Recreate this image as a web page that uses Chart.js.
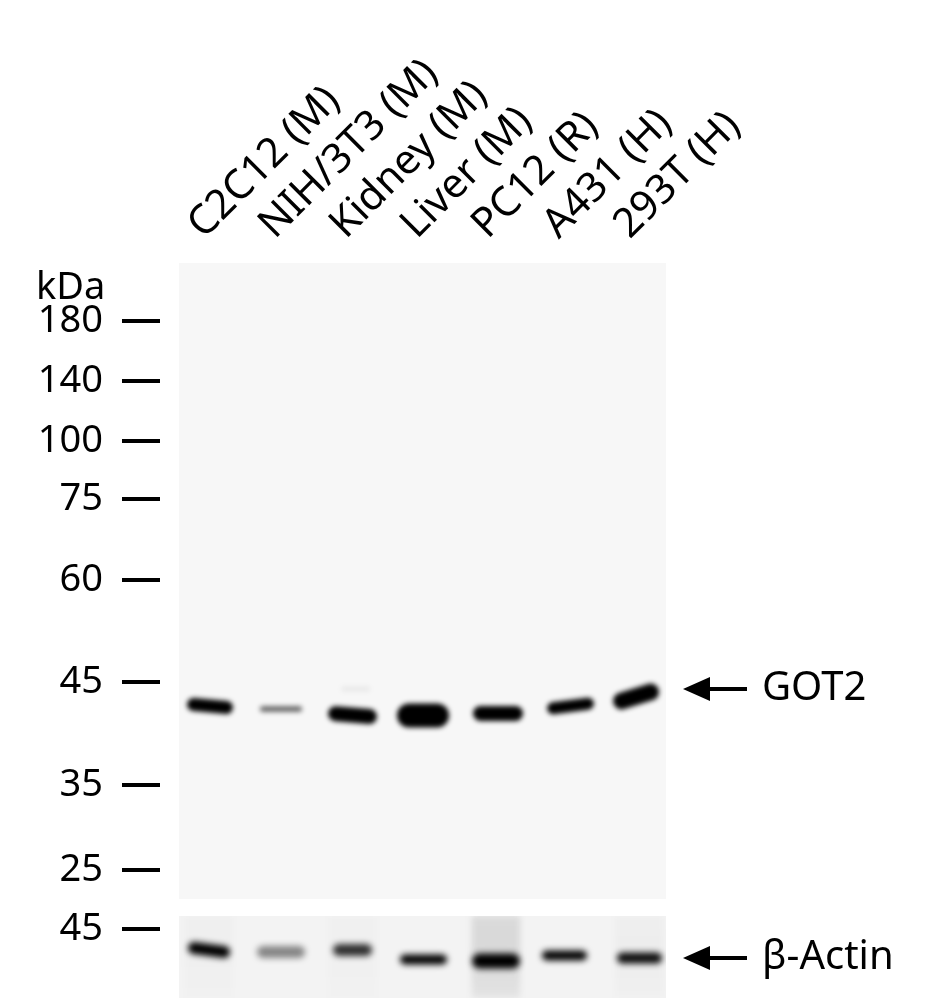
<!DOCTYPE html>
<html>
<head>
<meta charset="utf-8">
<script src="https://cdn.jsdelivr.net/npm/chart.js@4.4.1/dist/chart.umd.min.js"></script>
<style>
  html, body { margin: 0; padding: 0; background: #fff; overflow: hidden; }
  #wrap { position: relative; width: 943px; height: 1007px; }
  canvas { position: absolute; left: 0; display: block; }
  #gel { top: 0; width: 943px; height: 905px; }
  #actin { top: 905px; width: 943px; height: 102px; }
</style>
</head>
<body>
<div id="wrap">
  <canvas id="gel" width="943" height="905"></canvas>
  <canvas id="actin" width="943" height="102"></canvas>
</div>
<script>
const laneLabels = ['C2C12 (M)', 'NIH/3T3 (M)', 'Kidney (M)', 'Liver (M)', 'PC12 (R)', 'A431 (H)', '293T (H)'];

// ladder: kDa and migration distance (mm from top of membrane)
const markerKDa = [180, 140, 100, 75, 60, 45, 35, 25];
const markerPos = [5.8, 11.8, 17.8, 23.6, 31.7, 41.9, 52.2, 60.7];
const gelLength = 63.6;

// GOT2 bands: core ends in lane units, centre y (mm) at each end, thickness (mm)
const got2Left = [0.765, 1.740, 2.765, 3.800, 4.807, 5.829, 6.794];
const got2Right = [1.229, 2.254, 3.243, 4.195, 5.300, 6.321, 7.202];
const got2YLeft = [44.15, 44.6, 45.07, 45.25, 45.05, 44.53, 43.8];
const got2YRight = [44.45, 44.6, 45.35, 45.25, 45.05, 44.07, 42.9];
const got2Thick = [1.3, 0.55, 1.5, 2.4, 1.5, 1.2, 1.7];
const got2Density = [1, 0.6, 1, 1, 1, 1, 1];
// faint extra band above GOT2 in kidney lane
const faintX = [2.85, 3.25];
const faintY = 42.6;

// beta-actin strip
const actinMarkerKDa = [45];
const actinMarkerPos = [1.3];
const actinLength = 8.2;
const actinLeft = [0.771, 1.743, 2.813, 3.743, 4.793, 5.743, 6.807];
const actinRight = [1.195, 2.251, 3.195, 4.265, 5.257, 6.237, 7.287];
const actinYLeft = [3.2, 3.6, 3.4, 4.35, 4.5, 3.95, 4.2];
const actinYRight = [3.6, 3.6, 3.4, 4.35, 4.5, 3.95, 4.2];
const actinThick = [1.2, 1.2, 1.2, 1.0, 1.5, 1.0, 1.1];
const actinDensity = [1, 0.45, 0.8, 1, 1, 1, 0.95];
const actinSmear = [0.015, 0, 0.012, 0, 0.1, 0, 0.02];
const smearWidth = 0.68;

const GOT2_ARROW = 42.6;
const ACTIN_ARROW = 4.2;

Chart.defaults.font.family = "'Noto Sans', sans-serif";
Chart.defaults.color = '#000';

function bandSets(left, right, yL, yR, thick, dens) {
  return left.map((x0, i) => ({
    data: [{ x: x0, y: yL[i] }, { x: right[i], y: yR[i] }],
    borderColor: 'rgba(0,0,0,' + dens[i] + ')',
    borderWidth: ctx => {
      const s = ctx.chart.scales.y;
      return Math.abs(s.getPixelForValue(thick[i]) - s.getPixelForValue(0));
    },
    borderCapStyle: 'round',
    pointRadius: 0,
    tension: 0
  }));
}

const gelPlugin = {
  id: 'gel',
  beforeDatasetsDraw(chart, args, opts) {
    const { ctx, chartArea: a } = chart;
    ctx.save();
    ctx.fillStyle = opts.bg;
    ctx.fillRect(a.left, a.top, a.right - a.left, a.bottom - a.top);
    ctx.filter = 'blur(' + opts.blur + 'px)';
  },
  afterDatasetsDraw(chart) {
    chart.ctx.restore();
  },
  afterDraw(chart, args, opts) {
    const { ctx, chartArea: a } = chart;
    const ys = chart.scales.y;
    ctx.save();
    // ladder dashes
    ctx.strokeStyle = '#000';
    ctx.lineWidth = 4;
    ys.ticks.forEach(t => {
      const py = ys.getPixelForValue(t.value);
      ctx.beginPath();
      ctx.moveTo(a.left - 57, py);
      ctx.lineTo(a.left - 19, py);
      ctx.stroke();
    });
    // arrow + target label
    const py = ys.getPixelForValue(opts.arrowAt);
    const x0 = a.right + 17;
    ctx.fillStyle = '#000';
    ctx.beginPath();
    ctx.moveTo(x0, py);
    ctx.lineTo(x0 + 27, py - 12);
    ctx.lineTo(x0 + 27, py + 12);
    ctx.closePath();
    ctx.fill();
    ctx.fillRect(x0 + 20, py - 2, 44, 4);
    ctx.font = "40px 'Noto Sans', sans-serif";
    ctx.textBaseline = 'middle';
    ctx.textAlign = 'left';
    ctx.fillText(opts.label, x0 + 79, py);
    if (opts.unit) {
      ctx.textBaseline = 'alphabetic';
      ctx.font = "38px 'Noto Sans', sans-serif";
      ctx.fillText(opts.unit, 36, 299);
    }
    ctx.restore();
  }
};

const xRange = { min: 0.56, max: 7.42 };

// y axis for the ladder: label gap made with an invisible tick mark
function ladderAxis(max, pos, kda) {
  return {
    type: 'linear', reverse: true, min: 0, max: max,
    afterFit: s => { s.width = 179; s.paddingTop = 0; s.paddingBottom = 0; },
    afterBuildTicks: s => { s.ticks = pos.map(v => ({ value: v })); },
    ticks: {
      autoSkip: false, padding: 0,
      font: { size: 38 },
      callback: (v, i) => kda[i]
    },
    grid: { display: true, drawOnChartArea: false, drawTicks: true, tickLength: 76, tickColor: 'rgba(0,0,0,0)' },
    border: { display: false }
  };
}

const mainSets = bandSets(got2Left, got2Right, got2YLeft, got2YRight, got2Thick, got2Density);
mainSets.push({
  data: [{ x: faintX[0], y: faintY }, { x: faintX[1], y: faintY }],
  borderColor: 'rgba(0,0,0,0.06)',
  borderWidth: 5,
  pointRadius: 0
});

new Chart(document.getElementById('gel'), {
  type: 'line',
  data: { datasets: mainSets },
  options: {
    responsive: false,
    animation: false,
    devicePixelRatio: 1,
    layout: { padding: { left: 0, right: 277, top: 0, bottom: 6 } },
    plugins: {
      legend: { display: false },
      tooltip: { enabled: false },
      gel: { bg: '#f7f7f7', blur: 2.6, arrowAt: GOT2_ARROW, label: 'GOT2', unit: 'kDa' }
    },
    scales: {
      x: {
        type: 'linear', position: 'top', min: xRange.min, max: xRange.max,
        afterFit: s => { s.height = 263; s.paddingLeft = 0; s.paddingRight = 0; },
        afterBuildTicks: s => { s.ticks = laneLabels.map((_, i) => ({ value: i + 1 })); },
        ticks: {
          autoSkip: false, minRotation: 45, maxRotation: 45, padding: 14, labelOffset: 20,
          font: { size: 41 },
          callback: (v, i) => laneLabels[i]
        },
        grid: { display: false, drawTicks: false },
        border: { display: false }
      },
      y: ladderAxis(gelLength, markerPos, markerKDa)
    }
  },
  plugins: [gelPlugin]
});

const smearSets = [];
actinSmear.forEach((level, i) => {
  if (!level) return;
  const xc = (actinLeft[i] + actinRight[i]) / 2;
  smearSets.push({
    data: [{ x: xc, y: 0 }, { x: xc, y: actinLength }],
    borderColor: ctx => {
      const a = ctx.chart.chartArea;
      if (!a) return 'rgba(0,0,0,' + level + ')';
      const g = ctx.chart.ctx.createLinearGradient(0, a.top, 0, a.bottom);
      g.addColorStop(0, 'rgba(0,0,0,' + level + ')');
      g.addColorStop(0.5, 'rgba(0,0,0,' + level * 1.1 + ')');
      g.addColorStop(1, 'rgba(0,0,0,' + level * 0.6 + ')');
      return g;
    },
    borderWidth: ctx => {
      const s = ctx.chart.scales.x;
      return s.getPixelForValue(smearWidth) - s.getPixelForValue(0);
    },
    borderCapStyle: 'butt',
    pointRadius: 0
  });
});

new Chart(document.getElementById('actin'), {
  type: 'line',
  data: { datasets: smearSets.concat(bandSets(actinLeft, actinRight, actinYLeft, actinYRight, actinThick, actinDensity)) },
  options: {
    responsive: false,
    animation: false,
    devicePixelRatio: 1,
    layout: { padding: { left: 0, right: 277, top: 11, bottom: 9 } },
    plugins: {
      legend: { display: false },
      tooltip: { enabled: false },
      gel: { bg: '#f3f3f3', blur: 3, arrowAt: ACTIN_ARROW, label: 'β-Actin' }
    },
    scales: {
      x: { type: 'linear', display: false, min: xRange.min, max: xRange.max },
      y: ladderAxis(actinLength, actinMarkerPos, actinMarkerKDa)
    }
  },
  plugins: [gelPlugin]
});
</script>
</body>
</html>
